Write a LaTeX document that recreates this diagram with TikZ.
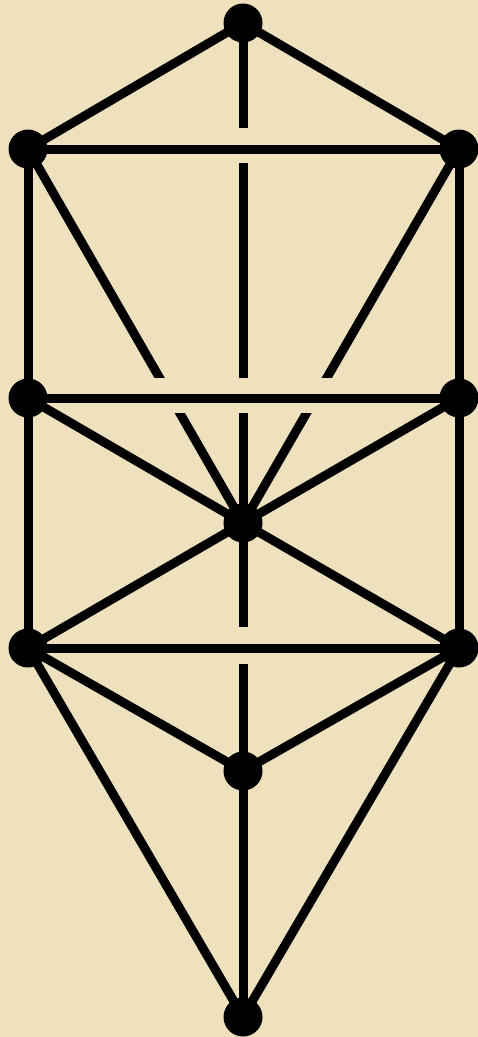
\documentclass[tikz,border=0pt]{standalone}
\definecolor{parch}{RGB}{239,225,190}
\pgfdeclarelayer{paper}
\pgfdeclarelayer{edges}
\pgfsetlayers{paper,edges,main}
\begin{document}
\begin{tikzpicture}[x=1pt,y=-1pt,
  sefira/.style={circle,fill=black,inner sep=0pt,minimum size=39pt},
  ln/.style={line width=9pt,black},
  gapmask/.style={fill=parch}]
\begin{pgfonlayer}{paper}
\fill[parch] (0,0) rectangle (478,1037);
\end{pgfonlayer}
\useasboundingbox (0,0) rectangle (478,1037);
% sefirot
\node[sefira] (K) at (243,23) {};
\node[sefira] (B) at (28,149) {};
\node[sefira] (C) at (459,149) {};
\node[sefira] (G) at (28,398) {};
\node[sefira] (H) at (459,398) {};
\node[sefira] (T) at (243,523) {};
\node[sefira] (Ho) at (28,648) {};
\node[sefira] (N) at (459,648) {};
\node[sefira] (Y) at (243,771) {};
\node[sefira] (M) at (243,1017) {};
\begin{pgfonlayer}{edges}
% paths that pass under horizontal ones
\draw[ln] (K.center) -- (T.center);
\draw[ln] (B.center) -- (T.center);
\draw[ln] (C.center) -- (T.center);
\draw[ln] (T.center) -- (Y.center);
% gaps where they pass the horizontals
\fill[gapmask] (100,128) rectangle (386,163);
\fill[gapmask] (100,378) rectangle (386,413);
\fill[gapmask] (100,627) rectangle (386,664);
% the other paths
\draw[ln] (K.center) -- (B.center);
\draw[ln] (K.center) -- (C.center);
\draw[ln] (B.center) -- (C.center);
\draw[ln] (B.center) -- (G.center);
\draw[ln] (C.center) -- (H.center);
\draw[ln] (G.center) -- (H.center);
\draw[ln] (G.center) -- (T.center);
\draw[ln] (H.center) -- (T.center);
\draw[ln] (G.center) -- (Ho.center);
\draw[ln] (H.center) -- (N.center);
\draw[ln] (T.center) -- (Ho.center);
\draw[ln] (T.center) -- (N.center);
\draw[ln] (Ho.center) -- (N.center);
\draw[ln] (Ho.center) -- (Y.center);
\draw[ln] (N.center) -- (Y.center);
\draw[ln] (Ho.center) -- (M.center);
\draw[ln] (N.center) -- (M.center);
\draw[ln] (Y.center) -- (M.center);
\end{pgfonlayer}
\end{tikzpicture}
\end{document}
